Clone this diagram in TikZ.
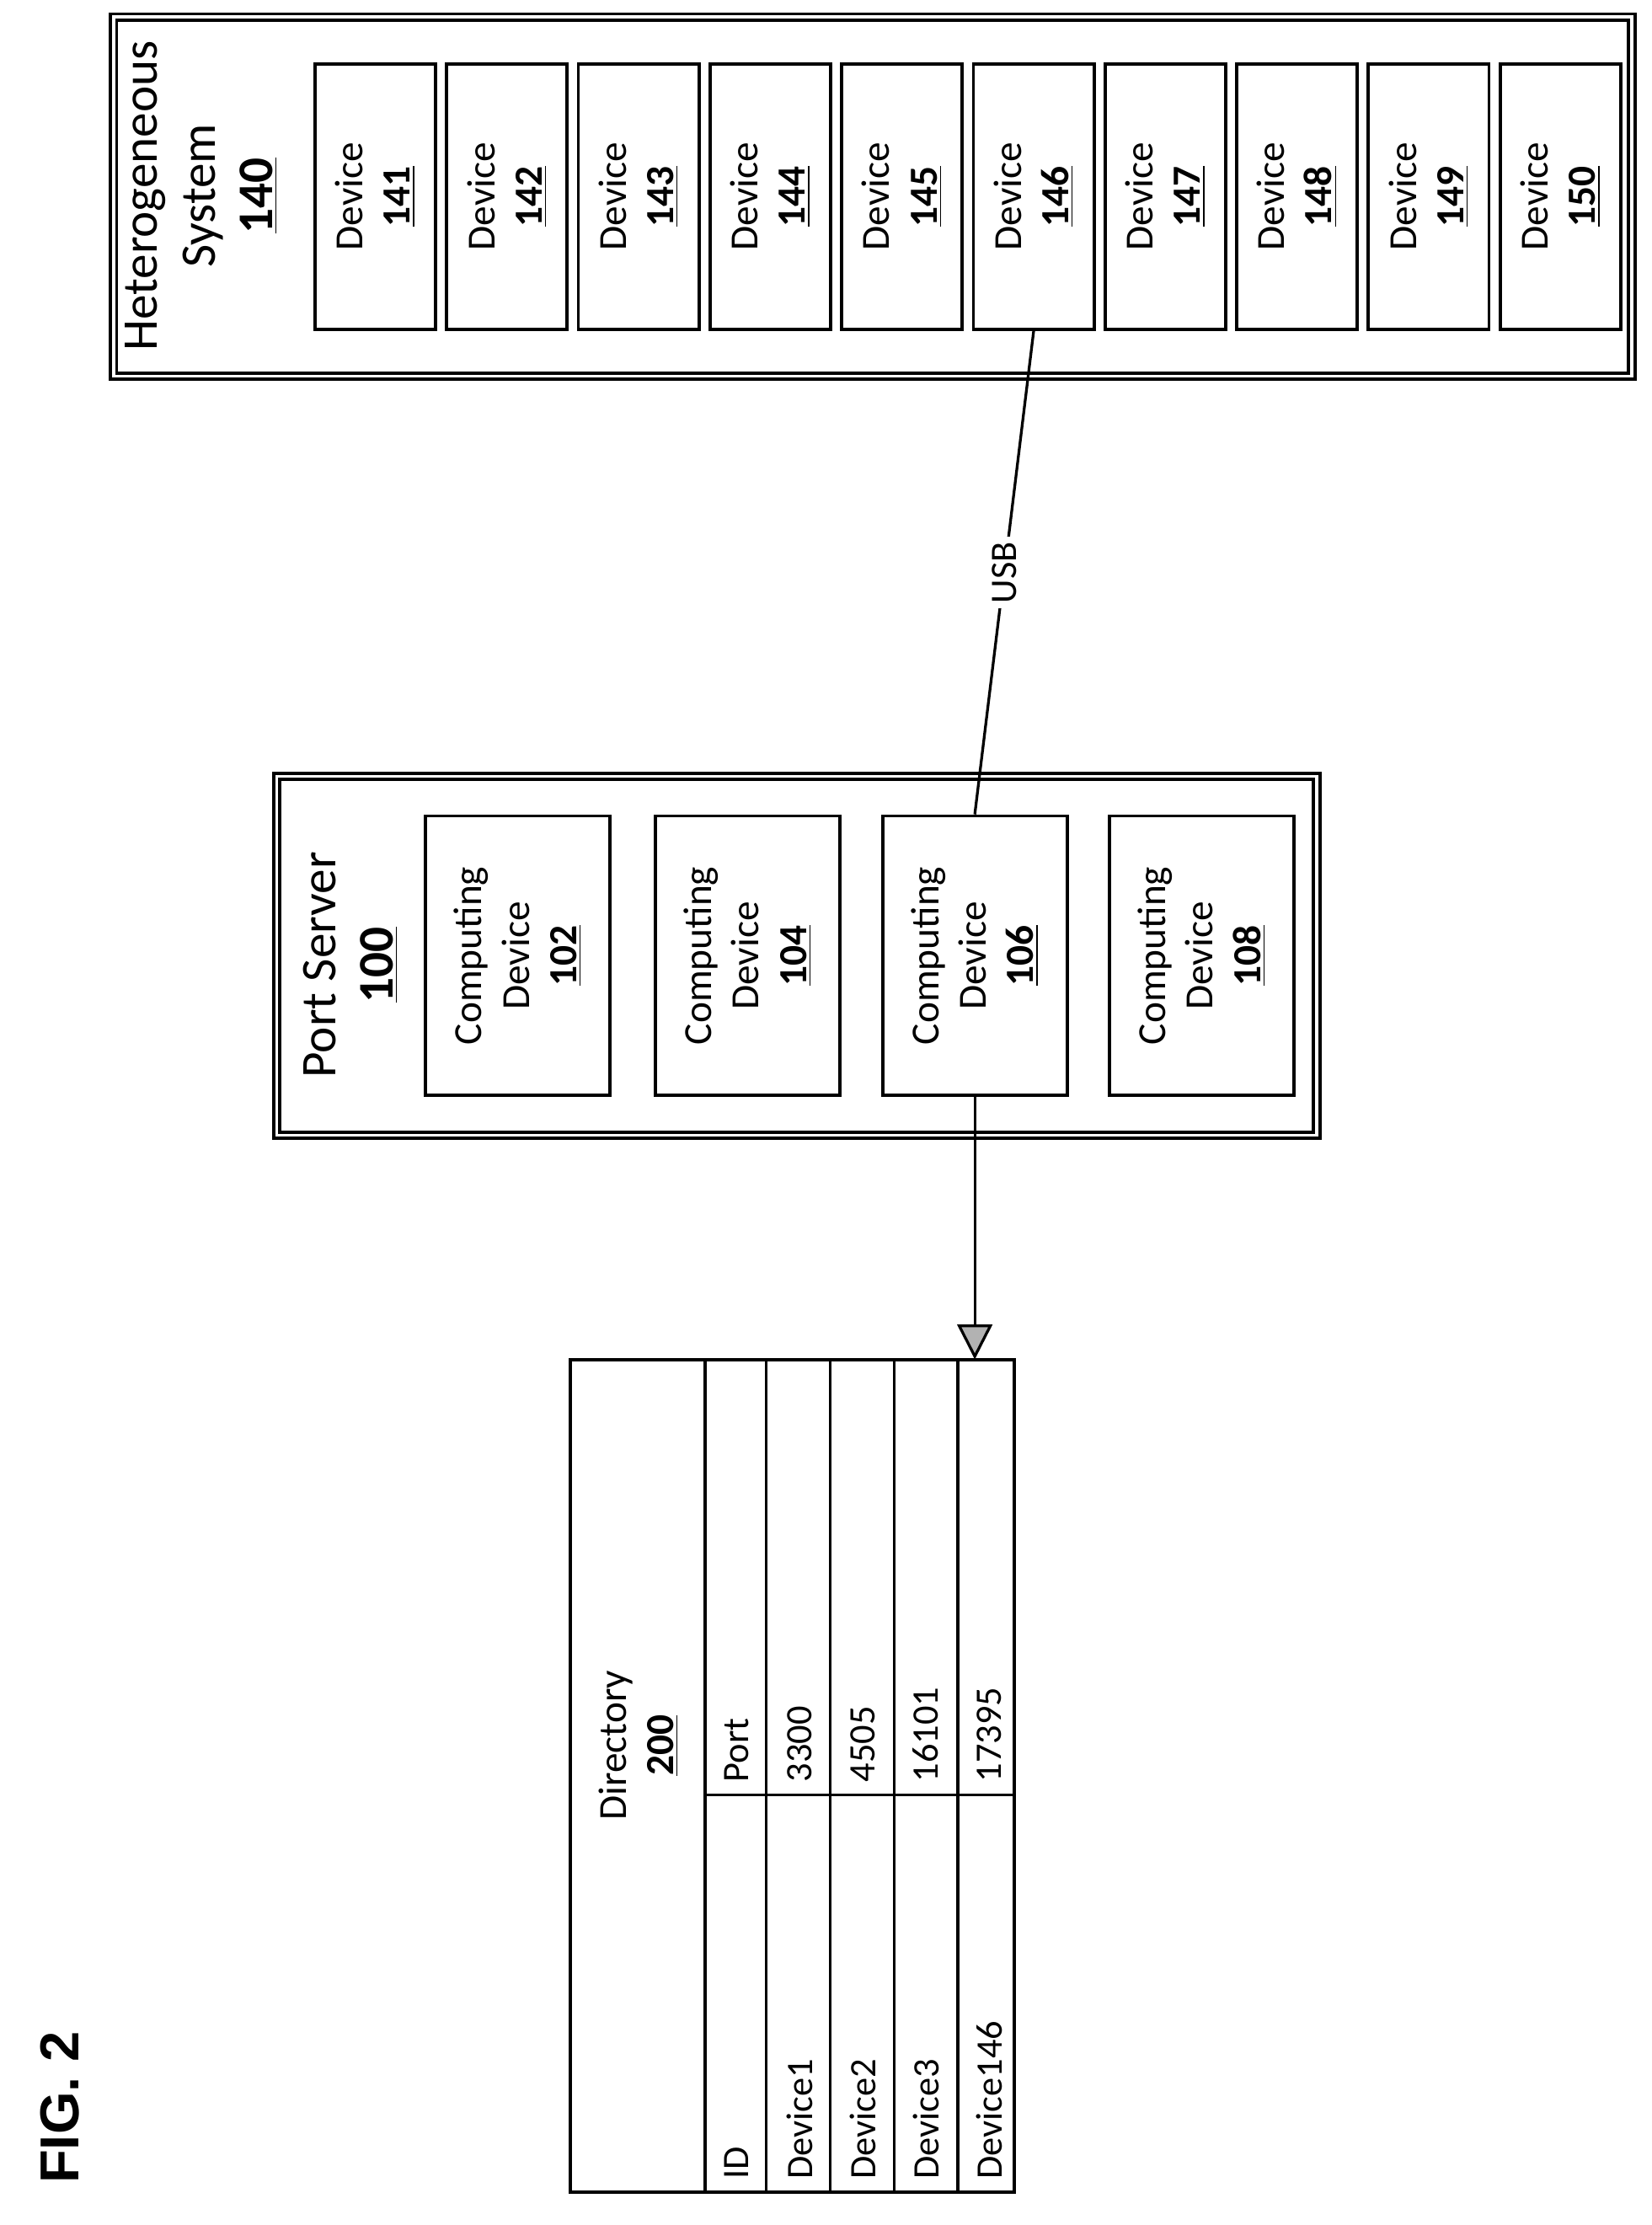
\documentclass[tikz,border=0pt]{standalone}
\usepackage{fontspec}
\setmainfont{Carlito}
\newfontfamily\figfont{Liberation Sans}
\usetikzlibrary{arrows.meta}
\newcommand{\refnum}[1]{\underline{\textbf{#1}}}
\tikzset{
  box/.style={draw, line width=1.3pt, rotate=90, align=center, inner sep=2pt},
  frame/.style={draw, line width=1.3pt, double, double distance=1.2pt},
  cell/.style={rotate=90, anchor=west, font=\fontsize{15}{17}\selectfont}
}
\begin{document}
\begin{tikzpicture}[x=0.02cm, y=-0.02cm]
    \useasboundingbox (0,0) rectangle (1164,1568);

    % heterogeneous system
    \draw[frame] (80,12) rectangle (1150,265);
    \node[rotate=90, align=center, font=\fontsize{20}{23}\selectfont] (hs) at (142,138)
        {Heterogeneous\\ System\\ \refnum{140}};
    \foreach \n [count=\i from 0] in {141,...,150}
        \node[box, minimum width=3.74cm, minimum height=1.7cm,
              font=\fontsize{16}{19}\selectfont] (d\n) at (264.5+92.8*\i,138.5)
            {Device\\ \refnum{\n}};

    % port server
    \draw[frame] (195,547) rectangle (928,800);
    \node[rotate=90, align=center, font=\fontsize{20}{23}\selectfont] (ps) at (247,680)
        {Port Server\\ \refnum{100}};
    \foreach \n/\x in {102/365,104/527,106/687,108/847}
        \node[box, minimum width=3.94cm, minimum height=2.6cm,
              font=\fontsize{16}{19}\selectfont] (c\n) at (\x,673.5)
            {Computing\\ Device\\ \refnum{\n}};

    % directory table
    \draw[line width=1.3pt] (402,958) rectangle (715,1545);
    \foreach \x in {497,540,585,630,675}
        \draw[line width=1.1pt] (\x,958) -- (\x,1545);
    \draw[line width=1.1pt] (497,1265) -- (715,1265);
    \node[rotate=90, align=center, font=\fontsize{16}{19}\selectfont] (dir) at (450,1230)
        {Directory\\ \refnum{200}};
    \coordinate (dirtop) at (687,958);
    \foreach \id/\port [count=\i from 0] in {ID/Port,Device1/3300,Device2/4505,Device3/16101,Device146/17395}
    {
        \node[cell] at (519+44.5*\i,1542) {\id};
        \node[cell] at (519+44.5*\i,1262) {\port};
    }

    % connectors
    \draw[line width=1.1pt] (d146.west) -- node[fill=white, rotate=90,
        font=\fontsize{15}{17}\selectfont, inner sep=2pt] {USB} (c106.east);
    \draw[line width=1.1pt, -{Triangle[open, length=14pt, width=14pt, fill=gray!60]}]
        (c106.west) -- (dirtop);

    \node[rotate=90, anchor=west, font=\figfont\bfseries\fontsize{22}{24}\selectfont] (fig) at (42,1545) {FIG. 2};
\end{tikzpicture}
\end{document}
